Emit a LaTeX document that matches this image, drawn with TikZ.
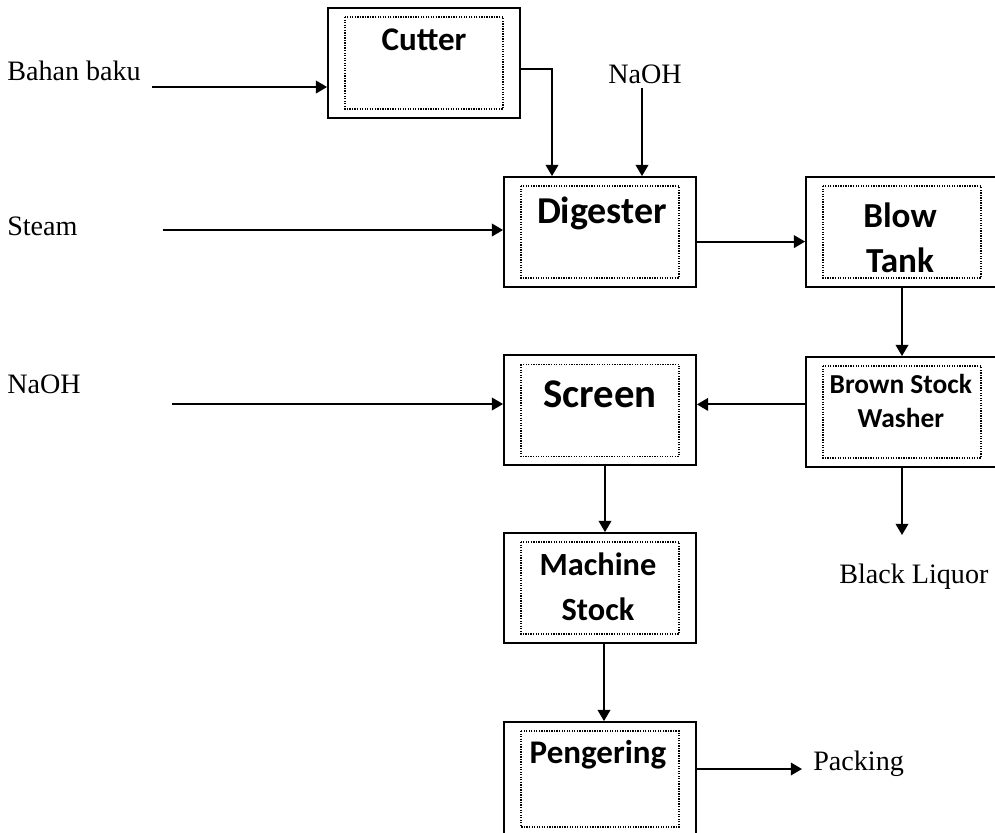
\documentclass[tikz,border=0pt]{standalone}
\usepackage{fontspec}
\setmainfont{Liberation Serif}
\setsansfont{Carlito}
\usetikzlibrary{arrows.meta, positioning, calc}

\begin{document}
\begin{tikzpicture}[
  proses/.style={draw=black, line width=1.3pt, minimum width=4.8cm, minimum height=2.75cm, inner sep=0pt},
  garisdalam/.style={draw=black, line width=0.9pt, dash pattern=on 0.9pt off 0.9pt},
  judul/.style 2 args={font=\sffamily\bfseries\fontsize{#1}{#2}\selectfont, align=center, anchor=base, inner sep=0pt},
  keterangan/.style={font=\fontsize{20}{24}\selectfont, anchor=base west, inner sep=0pt},
  alir/.style={draw=black, line width=1.3pt, -{Triangle[length=8pt,width=9pt]}}
]

\useasboundingbox (0,0) rectangle (24.875,-20.8);

\node[proses] (cutter)    at (10.6,-1.575) {};
\node[proses] (digester)  at (15.0,-5.8)   {};
\node[proses] (blowtank)  at (22.55,-5.8)  {};
\node[proses] (screen)    at (15.0,-10.26) {};
\node[proses] (bsw)       at (22.55,-10.3) {};
\node[proses] (machine)   at (15.0,-14.7)  {};
\node[proses, minimum height=2.85cm] (pengering) at (15.0,-19.475) {};

% bingkai titik-titik di dalam kotak
\foreach \n in {cutter,digester,blowtank,screen,bsw,machine,pengering}
  \draw[garisdalam] ([shift={(0.45,-0.25)}]\n.north west) rectangle ([shift={(-0.45,0.25)}]\n.south east);

% nama proses (baris terakhir di garis dasar)
\node[judul={23.5}{28}] (t-cutter)    at (10.6,-1.25)   {Cutter};
\node[judul={27}{32}]   (t-digester)  at (15.05,-5.575) {Digester};
\node[judul={25}{32}]   (t-blowtank)  at (22.5,-6.8)    {Blow\\Tank};
\node[judul={29}{34}]   (t-screen)    at (15.0,-10.175) {Screen};
\node[judul={19.5}{24}] (t-bsw)       at (22.52,-10.675) {Brown Stock\\Washer};
\node[judul={23}{32}]   (t-machine)   at (14.95,-15.5)  {Machine\\Stock};
\node[judul={23.5}{28}] (t-pengering) at (14.95,-19.075) {Pengering};

% masukan dan keluaran
\node[keterangan] (bahan)  at (0.175,-2.0)   {Bahan baku};
\node[keterangan] (naoh1)  at (15.2,-2.075)  {NaOH};
\node[keterangan] (steam)  at (0.175,-5.875) {Steam};
\node[keterangan] (naoh2)  at (0.175,-9.825) {NaOH};
\node[keterangan] (liquor) at (20.975,-14.575) {Black Liquor};
\node[keterangan] (packing) at (20.325,-19.25) {Packing};

\coordinate (in-bahan)    at (3.8,-2.175);
\coordinate (in-naoh1)    at (16.05,-2.2);
\coordinate (in-steam)    at (4.075,-5.75);
\coordinate (in-naoh2)    at (4.3,-10.1);
\coordinate (out-liquor)  at (22.5,-13.375);
\coordinate (out-packing) at (20.05,-19.225);

% aliran proses
\draw[alir] (in-bahan) -- (in-bahan -| cutter.west);
\draw[alir] ([yshift=-0.15cm]cutter.east) -| ([xshift=-1.2cm]digester.north);
\draw[alir] (in-naoh1) -- (in-naoh1 |- digester.north);
\draw[alir] (in-steam) -- (in-steam -| digester.west);
\draw[alir] ([yshift=-0.24cm]digester.east) -- ([yshift=-0.24cm]blowtank.west);
\draw[alir] (blowtank.south) -- (bsw.north);
\draw[alir] ([yshift=0.19cm]bsw.west) -- ([yshift=0.19cm]bsw.west -| screen.east);
\draw[alir] (in-naoh2) -- (in-naoh2 -| screen.west);
\draw[alir] (bsw.south) -- (bsw.south |- out-liquor);
\draw[alir] ([xshift=0.125cm]screen.south) -- ([xshift=0.125cm]machine.north);
\draw[alir] ([xshift=0.1cm]machine.south) -- ([xshift=0.1cm]pengering.north);
\draw[alir] ([yshift=0.25cm]pengering.east) -- (out-packing);

\end{tikzpicture}
\end{document}
